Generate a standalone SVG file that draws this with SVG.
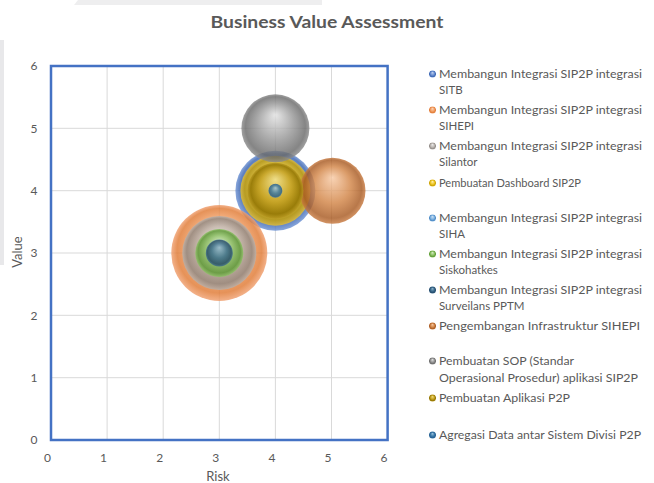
<svg xmlns="http://www.w3.org/2000/svg" width="654" height="483" viewBox="0 0 654 483">
<style>
.t{font-family:Lato,"Open Sans","Liberation Sans",sans-serif;fill:#595959}
.tick{font-size:12px;text-anchor:middle}
.leg{font-size:11.5px}
.grid{stroke:#d9d9d9;stroke-width:1;fill:none}
.b{fill-opacity:0.82}
</style>
<defs>
<radialGradient id="gSITB" cx="0.5" cy="0.5" r="0.5" fx="0.5" fy="0.3"><stop offset="0" stop-color="#c3d2ee"/><stop offset="0.55" stop-color="#6a8fd2"/><stop offset="0.88" stop-color="#3a64b0"/><stop offset="1" stop-color="#6d92d4"/></radialGradient>
<radialGradient id="gSIHEPI" cx="0.5" cy="0.5" r="0.5" fx="0.5" fy="0.3"><stop offset="0" stop-color="#fbd6bb"/><stop offset="0.55" stop-color="#f2a066"/><stop offset="0.88" stop-color="#e07a34"/><stop offset="1" stop-color="#f0a070"/></radialGradient>
<radialGradient id="gSilantor" cx="0.5" cy="0.5" r="0.5" fx="0.5" fy="0.3"><stop offset="0" stop-color="#ececec"/><stop offset="0.55" stop-color="#bdb7b2"/><stop offset="0.88" stop-color="#8f8a86"/><stop offset="1" stop-color="#b8b2ad"/></radialGradient>
<radialGradient id="gDash" cx="0.5" cy="0.5" r="0.5" fx="0.5" fy="0.3"><stop offset="0" stop-color="#fff0b0"/><stop offset="0.55" stop-color="#f0c828"/><stop offset="0.88" stop-color="#c9a000"/><stop offset="1" stop-color="#e8c030"/></radialGradient>
<radialGradient id="gSIHA" cx="0.5" cy="0.5" r="0.5" fx="0.5" fy="0.3"><stop offset="0" stop-color="#cfe2f3"/><stop offset="0.55" stop-color="#7fb2e0"/><stop offset="0.88" stop-color="#4a88c4"/><stop offset="1" stop-color="#7fb2e0"/></radialGradient>
<radialGradient id="gSisko" cx="0.5" cy="0.5" r="0.5" fx="0.5" fy="0.3"><stop offset="0" stop-color="#d8ecc8"/><stop offset="0.55" stop-color="#8cc264"/><stop offset="0.88" stop-color="#5c9a34"/><stop offset="1" stop-color="#8cc264"/></radialGradient>
<radialGradient id="gSurv" cx="0.5" cy="0.5" r="0.5" fx="0.5" fy="0.3"><stop offset="0" stop-color="#8fb4cc"/><stop offset="0.55" stop-color="#3a6a8c"/><stop offset="0.88" stop-color="#24496a"/><stop offset="1" stop-color="#3d6d8e"/></radialGradient>
<radialGradient id="gInfra" cx="0.5" cy="0.5" r="0.5" fx="0.5" fy="0.3"><stop offset="0" stop-color="#f7c9a4"/><stop offset="0.55" stop-color="#d28547"/><stop offset="0.88" stop-color="#a85a22"/><stop offset="1" stop-color="#c87a40"/></radialGradient>
<radialGradient id="gSOP" cx="0.5" cy="0.5" r="0.5" fx="0.5" fy="0.3"><stop offset="0" stop-color="#e2e2e2"/><stop offset="0.55" stop-color="#959595"/><stop offset="0.88" stop-color="#6a6a6a"/><stop offset="1" stop-color="#8c8c8c"/></radialGradient>
<radialGradient id="gApl" cx="0.5" cy="0.5" r="0.5" fx="0.5" fy="0.3"><stop offset="0" stop-color="#eedc80"/><stop offset="0.55" stop-color="#c4a020"/><stop offset="0.88" stop-color="#8f7200"/><stop offset="1" stop-color="#b89820"/></radialGradient>
<radialGradient id="gAgr" cx="0.5" cy="0.5" r="0.5" fx="0.5" fy="0.3"><stop offset="0" stop-color="#9cc4e0"/><stop offset="0.55" stop-color="#3a7aa8"/><stop offset="0.88" stop-color="#255e91"/><stop offset="1" stop-color="#3a7aa8"/></radialGradient>
</defs>
<rect width="654" height="483" fill="#ffffff"/>
<g id="backdrop-artifacts">
<polygon points="78,0 322,0 322,5 74,5" fill="#eeeeef"/>
<rect x="0" y="40" width="4" height="225" fill="#e8e8ea"/>
</g>
<g id="title"><text class="t" x="327" y="28" font-size="17.5" font-weight="bold" text-anchor="middle" textLength="233" lengthAdjust="spacingAndGlyphs">Business Value Assessment</text></g>
<g id="plot-grid">
<path class="grid" d="M107.1 66V440M163.2 66V440M219.3 66V440M275.4 66V440M331.5 66V440M51 377.7H387.6M51 315.3H387.6M51 253H387.6M51 190.7H387.6M51 128.3H387.6"/>
</g>
<g id="axes">
<g class="t tick">
<text x="34" y="70">6</text><text x="34" y="132.5">5</text><text x="34" y="195">4</text><text x="34" y="257">3</text><text x="34" y="319.5">2</text><text x="34" y="382">1</text><text x="34" y="444">0</text>
<text x="47.5" y="462">0</text><text x="103.6" y="462">1</text><text x="159.7" y="462">2</text><text x="215.8" y="462">3</text><text x="271.9" y="462">4</text><text x="328" y="462">5</text><text x="384.1" y="462">6</text>
</g>
<text class="t" x="218" y="481" font-size="13" text-anchor="middle">Risk</text>
<text class="t" font-size="13" text-anchor="middle" transform="translate(22,252) rotate(-90)">Value</text>
</g>
<g id="bubbles">
<g id="b-sitb"><circle class="b" cx="275.4" cy="190.7" r="40" fill="url(#gSITB)"/></g>
<g id="b-sihepi"><circle class="b" cx="219.3" cy="253" r="48" fill="url(#gSIHEPI)"/></g>
<g id="b-silantor"><circle class="b" cx="219.3" cy="253" r="37" fill="url(#gSilantor)"/></g>
<g id="b-dashboard"><circle class="b" cx="275.4" cy="190.7" r="35" fill="url(#gDash)"/></g>
<g id="b-siskohatkes"><circle class="b" cx="219.3" cy="253" r="24" fill="url(#gSisko)"/></g>
<g id="b-surveilans"><circle class="b" cx="219.3" cy="253" r="13.5" fill="url(#gSurv)"/></g>
<g id="b-infrastruktur"><circle class="b" cx="332.5" cy="190.7" r="33" fill="url(#gInfra)"/></g>
<g id="b-sop"><circle class="b" cx="275.4" cy="128.3" r="34" fill="url(#gSOP)"/></g>
<g id="b-aplikasi"><circle class="b" cx="275.4" cy="190.7" r="28" fill="url(#gApl)"/></g>
<g id="b-agregasi"><circle class="b" cx="275.4" cy="190.7" r="7" fill="url(#gAgr)"/></g>
</g>
<rect id="plot-border" x="51" y="66" width="336.6" height="374" fill="none" stroke="#4472C4" stroke-width="2.5"/>
<g id="legend">
<g id="leg-sitb"><circle cx="432.5" cy="74" r="3.5" fill="url(#gSITB)"/><text class="t leg" x="439" y="78" textLength="203" lengthAdjust="spacingAndGlyphs">Membangun Integrasi SIP2P integrasi</text><text class="t leg" x="439" y="93.5">SITB</text></g>
<g id="leg-sihepi"><circle cx="432.5" cy="110" r="3.5" fill="url(#gSIHEPI)"/><text class="t leg" x="439" y="114" textLength="203" lengthAdjust="spacingAndGlyphs">Membangun Integrasi SIP2P integrasi</text><text class="t leg" x="439" y="130">SIHEPI</text></g>
<g id="leg-silantor"><circle cx="432.5" cy="146" r="3.5" fill="url(#gSilantor)"/><text class="t leg" x="439" y="150" textLength="203" lengthAdjust="spacingAndGlyphs">Membangun Integrasi SIP2P integrasi</text><text class="t leg" x="439" y="166">Silantor</text></g>
<g id="leg-dashboard"><circle cx="432.5" cy="183" r="3.5" fill="url(#gDash)"/><text class="t leg" x="439" y="187" textLength="142" lengthAdjust="spacingAndGlyphs">Pembuatan Dashboard SIP2P</text></g>
<g id="leg-siha"><circle cx="432.5" cy="218" r="3.5" fill="url(#gSIHA)"/><text class="t leg" x="439" y="222" textLength="203" lengthAdjust="spacingAndGlyphs">Membangun Integrasi SIP2P integrasi</text><text class="t leg" x="439" y="238">SIHA</text></g>
<g id="leg-siskohatkes"><circle cx="432.5" cy="254" r="3.5" fill="url(#gSisko)"/><text class="t leg" x="439" y="258" textLength="203" lengthAdjust="spacingAndGlyphs">Membangun Integrasi SIP2P integrasi</text><text class="t leg" x="439" y="274">Siskohatkes</text></g>
<g id="leg-surveilans"><circle cx="432.5" cy="290" r="3.5" fill="url(#gSurv)"/><text class="t leg" x="439" y="294" textLength="203" lengthAdjust="spacingAndGlyphs">Membangun Integrasi SIP2P integrasi</text><text class="t leg" x="439" y="310">Surveilans PPTM</text></g>
<g id="leg-infrastruktur"><circle cx="432.5" cy="326" r="3.5" fill="url(#gInfra)"/><text class="t leg" x="439" y="330" textLength="201" lengthAdjust="spacingAndGlyphs">Pengembangan Infrastruktur SIHEPI</text></g>
<g id="leg-sop"><circle cx="432.5" cy="361" r="3.5" fill="url(#gSOP)"/><text class="t leg" x="439" y="365" textLength="135" lengthAdjust="spacingAndGlyphs">Pembuatan SOP (Standar</text><text class="t leg" x="439" y="382" textLength="199" lengthAdjust="spacingAndGlyphs">Operasional Prosedur) aplikasi SIP2P</text></g>
<g id="leg-aplikasi"><circle cx="432.5" cy="398" r="3.5" fill="url(#gApl)"/><text class="t leg" x="439" y="402" textLength="131" lengthAdjust="spacingAndGlyphs">Pembuatan Aplikasi P2P</text></g>
<g id="leg-agregasi"><circle cx="432.5" cy="435" r="3.5" fill="url(#gAgr)"/><text class="t leg" x="439" y="439" textLength="202" lengthAdjust="spacingAndGlyphs">Agregasi Data antar Sistem Divisi P2P</text></g>
</g>
</svg>
